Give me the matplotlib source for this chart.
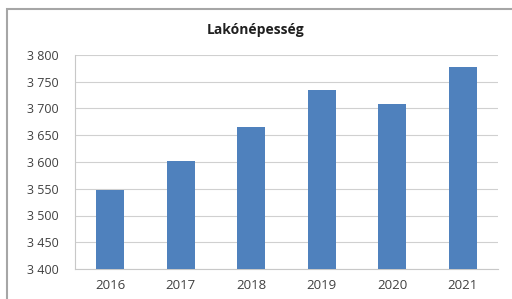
import matplotlib.pyplot as plt
from matplotlib.patches import Rectangle
from matplotlib.ticker import FuncFormatter

years = ['2016', '2017', '2018', '2019', '2020', '2021']
population = [3547, 3602, 3666, 3734, 3709, 3777]
title = 'Lakónépesség'

plt.rcParams['font.family'] = ['Open Sans', 'DejaVu Sans']

fig = plt.figure(figsize=(5.12, 2.99), dpi=100)
fig.patches.append(Rectangle((7 / 512, -0.02), 1.0, 1 - 9 / 299 + 0.02,
                             transform=fig.transFigure, fill=False,
                             edgecolor='#a6a6a6', linewidth=1.5))

ax = fig.add_axes([75 / 512, 30 / 299, 423 / 512, 214 / 299])
x = range(len(years))
ax.bar(x, population, width=0.4, color='#4f81bd', zorder=3)

ax.set_ylim(3400, 3800)
ax.set_xlim(-0.5, len(years) - 0.5)
ax.set_yticks(range(3400, 3801, 50))
ax.yaxis.set_major_formatter(FuncFormatter(lambda v, p: f'{int(v):,}'.replace(',', ' ')))
ax.set_xticks(list(x))
ax.set_xticklabels(years)

ax.grid(axis='y', color='#d0d0d0', linewidth=0.8, zorder=0)
for s in ['top', 'right']:
    ax.spines[s].set_visible(False)
ax.spines['left'].set_color('#c8c8c8')
ax.spines['bottom'].set_color('#c8c8c8')
ax.tick_params(axis='y', length=0, labelsize=9, labelcolor='#404040', pad=12)
ax.tick_params(axis='x', length=0, labelsize=9.5, labelcolor='#404040', pad=7)

fig.text(0.5, 1 - 30 / 299, title, ha='center', va='center',
         fontsize=10, fontweight='bold', color='#202020')

fig.savefig('out.png', dpi=100)
